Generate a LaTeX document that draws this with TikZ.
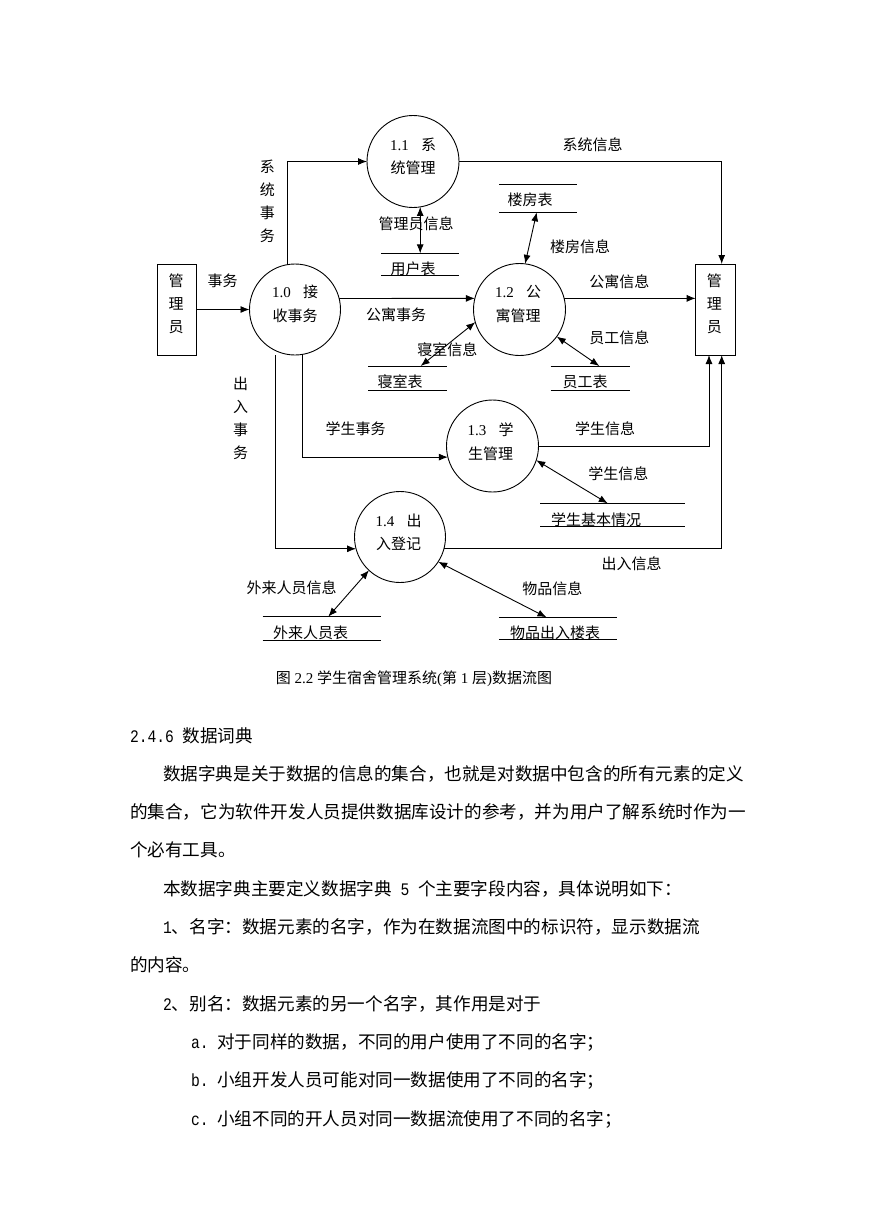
\documentclass[tikz,border=0pt]{standalone}
\usepackage{fontspec}
\setmainfont{Liberation Serif}
\newfontfamily\cjk{Noto Sans CJK SC}
\newfontfamily\monof{Liberation Mono}
\newcommand{\mn}[1]{\scalebox{0.833}[1]{\monof\fontsize{17.6}{17.6}\selectfont #1}}
\usetikzlibrary{arrows.meta}
\begin{document}
\begin{tikzpicture}[x=1pt,y=-1pt,
  every node/.style={inner sep=0pt, outer sep=0pt},
  proc/.style={circle, draw, line width=0.9pt, minimum size=92pt},
  ent/.style={rectangle, draw, line width=0.9pt, minimum width=39.4pt, minimum height=91pt},
  store/.style={rectangle},
  sline/.style={line width=0.9pt},
  lbl/.style={font=\cjk\fontsize{15}{15}\selectfont},
  vlbl/.style={font=\cjk\fontsize{15}{23.1}\selectfont, align=center},
  ctext/.style={font=\fontsize{15}{23.3}\selectfont, align=center},
  flow/.style={line width=0.9pt, -{Latex[length=9pt,width=7pt]}},
  dflow/.style={line width=0.9pt, {Latex[length=9pt,width=7pt]}-{Latex[length=9pt,width=7pt]}},
  body/.style={font=\cjk\fontsize{17.6}{17.6}\selectfont, anchor=west},
  captxt/.style={font=\fontsize{15}{15}\selectfont},
]
\fill[white] (0,0) rectangle (869,1228);
\useasboundingbox (0,0) rectangle (869,1228);

% external entities
\node[ent] (mgrL) at (177,309.5) {};
\node[vlbl] (tL) at (176,304) {管\\理\\员};
\node[ent] (mgrR) at (715.4,309.5) {};
\node[vlbl] (tR) at (714.3,304) {管\\理\\员};

% processes
\node[proc, minimum size=91pt] (p10) at (295,309.5) {};
\node[proc] (p11) at (413,161.5) {};
\node[proc] (p12) at (519.5,309.5) {};
\node[proc] (p13) at (492.5,446) {};
\node[proc, minimum size=91pt] (p14) at (400,537) {};

\node[ctext] (c10) at (295,303.9) {\makebox[46pt]{1.0\hfill{\cjk 接}}\\{\cjk 收事务}};
\node[ctext] (c11) at (413,156.7) {\makebox[46pt]{1.1\hfill{\cjk 系}}\\{\cjk 统管理}};
\node[ctext] (c12) at (518,303.9) {\makebox[46pt]{1.2\hfill{\cjk 公}}\\{\cjk 寓管理}};
\node[ctext] (c13) at (490.5,441.7) {\makebox[46pt]{1.3\hfill{\cjk 学}}\\{\cjk 生管理}};
\node[ctext] (c14) at (398.5,532.5) {\makebox[46pt]{1.4\hfill{\cjk 出}}\\{\cjk 入登记}};

% data stores
\node[store, minimum width=78.3pt, minimum height=21.7pt] (s1) at (420.2,264.2) {};
\node[store, minimum width=78pt, minimum height=28pt] (s2) at (538,198.3) {};
\node[store, minimum width=78.4pt, minimum height=24pt] (s3) at (407.5,378) {};
\node[store, minimum width=79.3pt, minimum height=24pt] (s4) at (590.3,378) {};
\node[store, minimum width=145pt, minimum height=22.7pt] (s5) at (612.5,514.7) {};
\node[store, minimum width=118pt, minimum height=23.3pt] (s6) at (321.7,628.3) {};
\node[store, minimum width=117.7pt, minimum height=22pt] (s7) at (557.8,628.3) {};
\foreach \s in {s1,s2,s3,s4,s5,s6,s7}{
  \draw[sline] (\s.north west) -- (\s.north east) (\s.south west) -- (\s.south east);
}
\node[lbl] (t1) at (413,269) {用户表};
\node[lbl] (t2) at (530,200) {楼房表};
\node[lbl] (t3) at (400,381.7) {寝室表};
\node[lbl] (t4) at (585,381.7) {员工表};
\node[lbl] (t5) at (596,520) {学生基本情况};
\node[lbl] (t6) at (310.7,633.3) {外来人员表};
\node[lbl] (t7) at (555,633) {物品出入楼表};

% coordinates on circles
\coordinate (a11) at (p11.-81);
\coordinate (a12top) at (p12.83);
\coordinate (a12l) at (p12.196);
\coordinate (a12r) at (p12.-36);
\coordinate (a13) at (p13.-18);
\coordinate (a14l) at (p14.227);
\coordinate (a14r) at (p14.-33);

% flows
\draw[flow] (mgrL.east) -- (p10.west);
\draw[flow] (p10.99) |- (p11.west);
\draw[flow] (p10.14) -- (p12.166);
\draw[flow] (p12.14) -- (p12.14 -| mgrR.west);
\draw[flow] (p11.east) -| ([xshift=6.3pt]mgrR.north);
\draw[flow] (p13.east) -| ([xshift=-6.4pt]mgrR.south);
\draw[flow] (p14.-15) -| ([xshift=6.3pt]mgrR.south);
\draw[flow] (p10.-81.5) |- (p13.194);
\draw[flow] (p10.south -| p10.245) |- (p14.195);

\draw[dflow] (a11) -- (a11 |- s1.north);
\draw[dflow] ([xshift=-1.3pt]s2.south) -- (a12top);
\draw[dflow] (a12l) -- ([xshift=13.2pt]s3.north);
\draw[dflow] (a12r) -- ([xshift=9pt]s4.north);
\draw[dflow] (a13) -- ([xshift=-4.8pt]s5.north);
\draw[dflow] (a14l) -- ([xshift=6.6pt]s6.north);
\draw[dflow] (a14r) -- ([xshift=-11.3pt]s7.north);

% flow labels
\node[lbl] (l1) at (222.7,281) {事务};
\node[vlbl] (l2) at (267.3,201.3) {系\\统\\事\\务};
\node[lbl] (l3) at (396,315) {公寓事务};
\node[lbl] (l4) at (592.7,145) {系统信息};
\node[lbl] (l5) at (416,223.3) {管理员信息};
\node[lbl] (l6) at (580,246.7) {楼房信息};
\node[lbl] (l7) at (619.3,281.7) {公寓信息};
\node[lbl] (l8) at (619.3,337.3) {员工信息};
\node[lbl] (l9) at (447.3,350) {寝室信息};
\node[vlbl] (l10) at (240.7,418) {出\\入\\事\\务};
\node[lbl] (l11) at (355.5,428.3) {学生事务};
\node[lbl] (l12) at (605,428.3) {学生信息};
\node[lbl] (l13) at (618.3,473.3) {学生信息};
\node[lbl] (l14) at (631.7,564) {出入信息};
\node[lbl] (l15) at (291.7,587.3) {外来人员信息};
\node[lbl] (l16) at (552.3,588.3) {物品信息};

% caption
\node[captxt] (capn) at (414,678.3) {{\cjk 图} 2.2 {\cjk 学生宿舍管理系统}({\cjk 第} 1 {\cjk 层}){\cjk 数据流图}};

% body text
\node[body] (b0) at (130,736) {\mn{2.4.6 }数据词典};
\node[body] (b1) at (163,774) {数据字典是关于数据的信息的集合，也就是对数据中包含的所有元素的定义};
\node[body] (b2) at (130,812) {的集合，它为软件开发人员提供数据库设计的参考，并为用户了解系统时作为一};
\node[body] (b3) at (130,850) {个必有工具。};
\node[body] (b4) at (163,889) {本数据字典主要定义数据字典\mn{\ 5\ }个主要字段内容，具体说明如下：};
\node[body] (b5) at (163,927) {\mn{1}、名字：数据元素的名字，作为在数据流图中的标识符，显示数据流};
\node[body] (b6) at (130,965) {的内容。};
\node[body] (b7) at (163,1004) {\mn{2}、别名：数据元素的另一个名字，其作用是对于};
\node[body] (b8) at (191,1042) {\mn{a.\ }对于同样的数据，不同的用户使用了不同的名字；};
\node[body] (b9) at (191,1080) {\mn{b.\ }小组开发人员可能对同一数据使用了不同的名字；};
\node[body] (b10) at (191,1119) {\mn{c.\ }小组不同的开人员对同一数据流使用了不同的名字；};
\end{tikzpicture}
\end{document}
